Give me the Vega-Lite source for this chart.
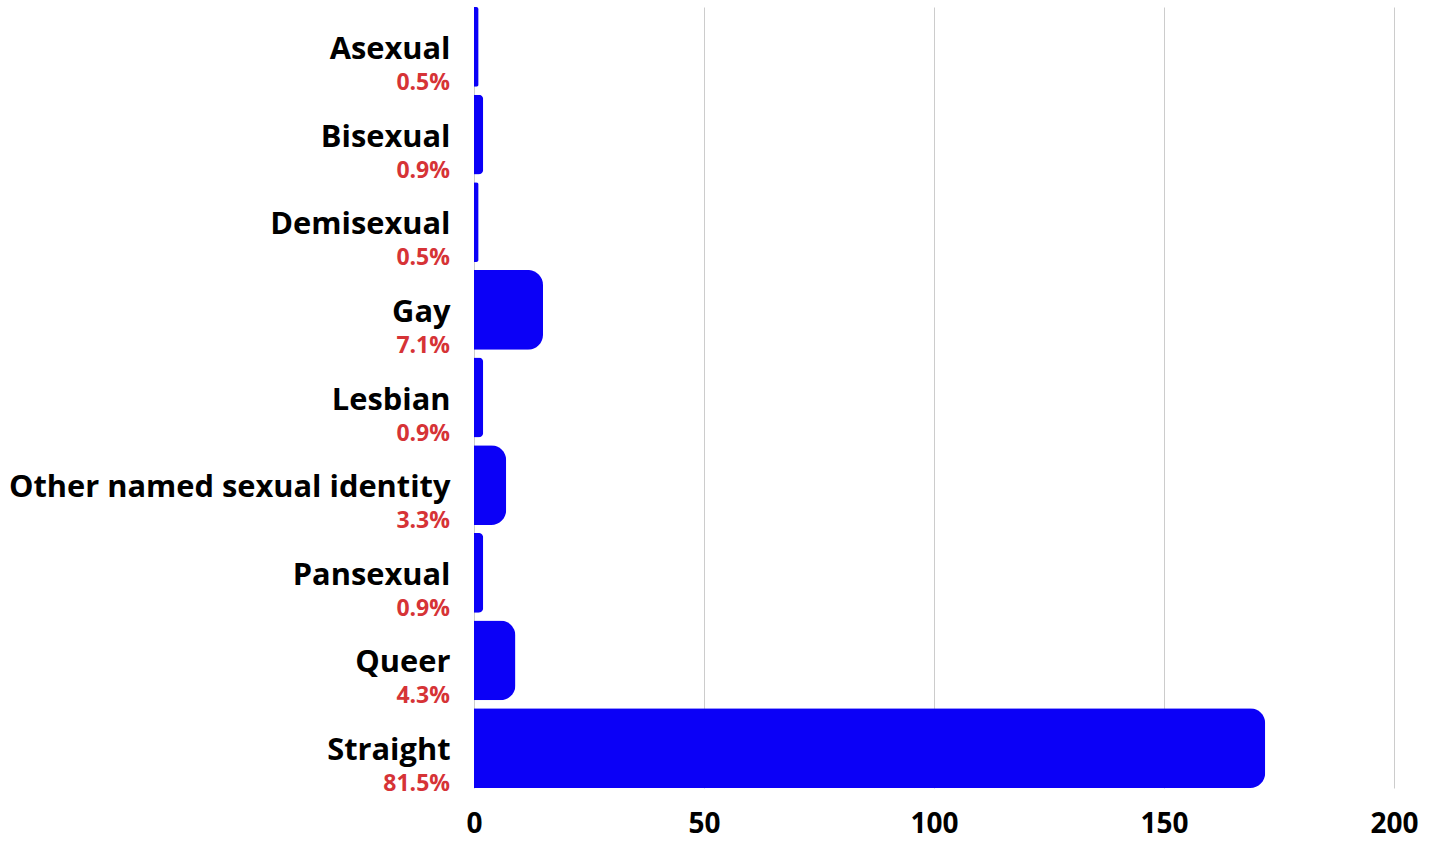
{
  "$schema": "https://vega.github.io/schema/vega-lite/v6.json",
  "width": 920,
  "height": 781,
  "autosize": {"type": "none"},
  "padding": {"left": 474, "top": 7, "right": 43, "bottom": 53},
  "background": "white",
  "config": {
    "view": {"stroke": null},
    "font": "Open Sans"
  },
  "data": {
    "values": [
      {"identity": "Asexual", "count": 1, "pct": "0.5%"},
      {"identity": "Bisexual", "count": 2, "pct": "0.9%"},
      {"identity": "Demisexual", "count": 1, "pct": "0.5%"},
      {"identity": "Gay", "count": 15, "pct": "7.1%"},
      {"identity": "Lesbian", "count": 2, "pct": "0.9%"},
      {"identity": "Other named sexual identity", "count": 7, "pct": "3.3%"},
      {"identity": "Pansexual", "count": 2, "pct": "0.9%"},
      {"identity": "Queer", "count": 9, "pct": "4.3%"},
      {"identity": "Straight", "count": 172, "pct": "81.5%"}
    ]
  },
  "encoding": {
    "y": {
      "field": "identity",
      "type": "nominal",
      "sort": null,
      "scale": {"paddingInner": 0.09, "paddingOuter": 0},
      "axis": {
        "title": null,
        "domain": false,
        "ticks": false,
        "labelPadding": 24,
        "labelFont": "Open Sans",
        "labelFontWeight": "bold",
        "labelFontSize": 30.8,
        "labelColor": "#000000",
        "labelBaseline": "alphabetic",
        "labelOffset": 12,
        "labelLimit": 700
      }
    }
  },
  "layer": [
    {
      "mark": {"type": "bar", "color": "#0b00f7", "cornerRadiusEnd": 15},
      "encoding": {
        "x": {
          "field": "count",
          "type": "quantitative",
          "scale": {"domain": [0, 200], "nice": false},
          "axis": {
            "title": null,
            "values": [0, 50, 100, 150, 200],
            "domain": false,
            "ticks": false,
            "grid": true,
            "gridColor": "#cccccc",
            "gridWidth": 1,
            "labelFlush": false,
            "labelPadding": 22,
            "labelFont": "Open Sans",
            "labelFontWeight": "bold",
            "labelFontSize": 28,
            "labelColor": "#000000"
          }
        }
      }
    },
    {
      "mark": {
        "type": "text",
        "align": "right",
        "baseline": "alphabetic",
        "dx": -24,
        "dy": 43,
        "font": "Open Sans",
        "fontWeight": "bold",
        "fontSize": 23,
        "color": "#d63336"
      },
      "encoding": {
        "x": {"datum": 0, "type": "quantitative"},
        "text": {"field": "pct"}
      }
    }
  ]
}
